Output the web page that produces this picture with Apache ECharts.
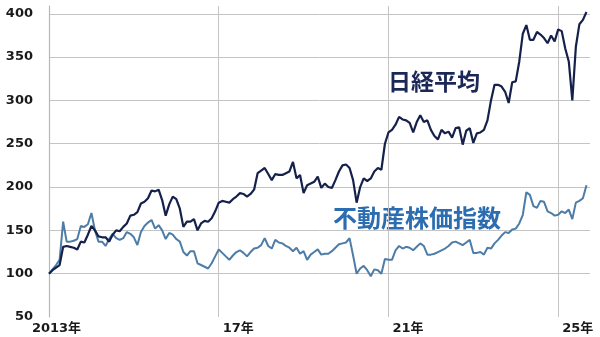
<!DOCTYPE html>
<html><head><meta charset="utf-8">
<script src="https://cdn.jsdelivr.net/npm/echarts@6/dist/echarts.min.js"></script>
<style>html,body{margin:0;padding:0;background:#fff}#c{width:600px;height:337px}</style>
</head><body><div id="c"></div>
<script>
// Monthly index values, Jan 2013 = 100 (index 0 = Jan 2013)
const nikkei = [100,104,107,110,131,132,131,130,128,137,136,145,155,150,143,142,142,137,145,150,149,154,158,167,168,171,181,183,187,196,195,197,185,167,180,189,186,175,154,160,160,163,150,158,161,160,164,172,182,184,183,182,186,189,193,192,189,192,197,216,219,222,215,208,215,214,214,216,218,229,210,214,193,202,204,206,212,199,204,200,199,208,218,225,226,222,208,182,200,210,207,210,218,222,220,250,263,266,272,281,278,277,274,263,275,283,275,277,266,259,255,266,262,264,257,268,269,249,265,268,251,262,263,266,277,300,318,318,316,310,297,321,322,345,377,387,370,370,379,376,372,366,375,368,382,380,360,345,300,362,388,393,402];
const realEstate = [100,105,110,116,160,137,137,138,140,155,154,157,170,150,137,137,132,140,146,141,139,141,148,146,142,133,148,155,159,162,152,156,150,140,147,145,140,137,125,121,126,126,112,110,108,106,112,120,128,124,120,116,121,125,127,124,120,125,129,130,133,141,132,129,139,136,135,132,130,126,130,123,126,116,122,125,128,122,123,123,126,130,134,135,136,141,121,100,106,109,104,97,105,104,100,117,116,116,127,132,129,131,130,127,131,135,132,122,122,123,125,127,129,132,136,137,135,133,136,139,124,124,125,122,130,129,135,139,144,148,147,151,152,158,168,194,191,178,176,184,183,172,170,167,168,172,170,174,163,182,184,187,202];
const tickLabels = ['2013年','17年','21年','25年'];
const yTicks = [50,100,150,200,250,300,350,400];
const seriesNames = ['日経平均','不動産株価指数'];

const chart = echarts.init(document.getElementById('c'), null, {renderer:'canvas'});
const toPairs = arr => arr.map((v,i)=>[i,v]);
chart.setOption({
  animation:false,
  backgroundColor:'#fff',
  grid:{left:49,right:10,top:6,bottom:20,containLabel:false},
  xAxis:{
    type:'value',min:0,max:153,interval:48,
    axisLine:{show:false},axisTick:{show:false},
    splitLine:{show:true,showMinLine:false,showMaxLine:false,lineStyle:{color:'#c4c4c4',width:1}},
    axisLabel:{
      margin:5,showMaxLabel:false,
      formatter:function(v){const k=Math.round(v/48);if(v%48!==0||!tickLabels[k])return '';return (k===0?'{a|':'{b|')+tickLabels[k]+'}';},
      rich:{
        a:{fontFamily:'DejaVu Sans, Noto Sans CJK JP',fontWeight:'bold',fontSize:13,color:'#1a1a1a',padding:[0,0,0,15]},
        b:{fontFamily:'DejaVu Sans, Noto Sans CJK JP',fontWeight:'bold',fontSize:13,color:'#1a1a1a',padding:[0,0,0,39]}
      }
    }
  },
  yAxis:{
    type:'value',min:50,max:409,interval:50,
    axisLine:{show:true,lineStyle:{color:'#b8b8b8',width:1.2}},axisTick:{show:false},
    splitLine:{show:true,showMinLine:false,showMaxLine:false,lineStyle:{color:'#c4c4c4',width:1}},
    axisLabel:{margin:16,showMaxLabel:false,fontFamily:'DejaVu Sans',fontWeight:'bold',fontSize:13,color:'#1a1a1a',
      formatter:function(v){return yTicks.indexOf(v)>=0?String(v):'';}}
  },
  series:[
    {name:seriesNames[1],type:'line',data:toPairs(realEstate),symbol:'none',lineStyle:{color:'#4d7ca6',width:2},z:2},
    {name:seriesNames[0],type:'line',data:toPairs(nikkei),symbol:'none',lineStyle:{color:'#15214b',width:2.2},z:3}
  ],
  graphic:[
    {type:'text',left:388,top:70,style:{text:seriesNames[0],fontFamily:'Noto Sans CJK JP',fontWeight:'bold',fontSize:23,fill:'#1b2756'}},
    {type:'text',left:333,top:206,style:{text:seriesNames[1],fontFamily:'Noto Sans CJK JP',fontWeight:'bold',fontSize:24,fill:'#2b6db0'}}
  ]
});
</script></body></html>
